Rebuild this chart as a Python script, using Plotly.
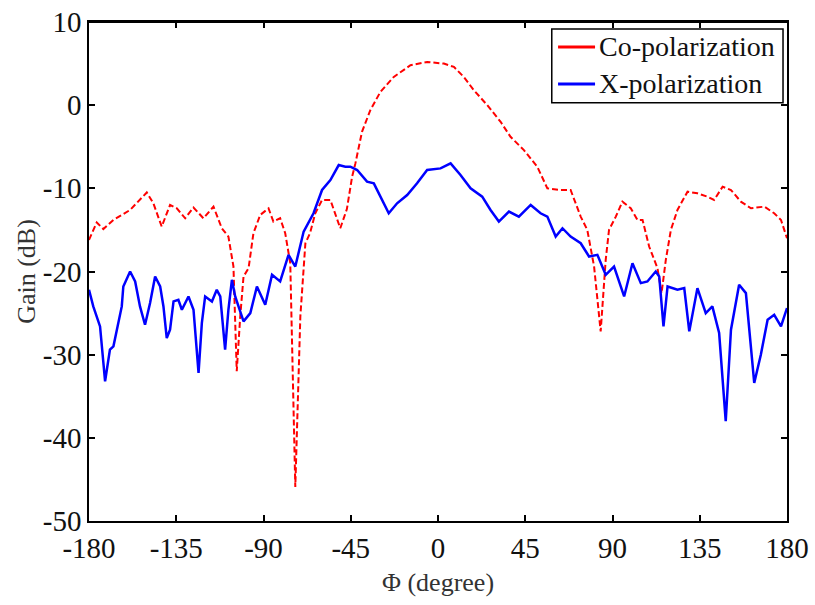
import plotly.graph_objects as go

# Co-polarization (red dashed)
co_phi = [-180, -176, -172.6, -167.4, -158.8, -150.2, -146.8, -142.5, -138.2, -134.7,
          -130.4, -126.1, -121, -115.8, -111.5, -108.1, -105.5, -103.8, -102, -100.3,
          -97.7, -95.2, -91.7, -87.4, -84.9, -81.4, -78.8, -76.2, -73.6, -71,
          -68.4, -66, -63.3, -59.8, -55.5, -50.4, -47, -44.3, -42.6, -39.2,
          -34.9, -29.7, -22.8, -14.2, -5.6, 3.0, 8.2, 13.3, 18.5, 25.4,
          32.3, 37.4, 44.3, 51.2, 56.4, 63.3, 68.4, 73.6, 77.0, 80.5,
          83.9, 86.5, 88.2, 91.7, 95.1, 99.4, 102.9, 105.5, 108.9, 113.2,
          115.3, 117.5, 120.1, 123.5, 128.7, 133.8, 139.0, 142.4, 146.8, 151.1,
          156.2, 161.4, 168.3, 173.4, 176.9, 180]
co_gain = [-16.2, -14.1, -14.9, -13.8, -12.6, -10.5, -11.8, -14.6, -12.0, -12.4,
           -13.6, -12.3, -13.6, -12.2, -14.8, -15.8, -19.4, -32.0, -25.4, -20.6,
           -19.6, -15.4, -13.2, -12.4, -14.0, -13.6, -15.4, -19.0, -45.9, -25.4,
           -16.6, -15.4, -13.0, -11.4, -11.4, -14.8, -12.5, -8.6, -7.0, -3.2,
           -0.6, 1.6, 3.4, 4.8, 5.2, 5.0, 4.6, 3.4, 1.8, 0.0,
           -2.0, -3.8, -5.4, -7.4, -10.0, -10.2, -10.2, -13.4, -15.0, -19.4,
           -27.2, -18.6, -15.0, -13.4, -11.6, -12.4, -13.8, -13.8, -17.0, -19.6,
           -22.6, -18.6, -15.0, -12.6, -10.4, -10.6, -11.0, -11.4, -9.8, -10.2,
           -11.6, -12.4, -12.2, -13.0, -13.8, -16.0]

# X-polarization (blue solid)
x_phi = [-180, -177.8, -174.3, -171.7, -169.2, -167.4, -163.1, -162.3, -158.8, -156.2,
         -153.7, -151.1, -148.5, -145.9, -143.3, -141.6, -139.9, -138.2, -136.4, -133.9,
         -132.1, -128.7, -126.1, -123.5, -121.8, -120.1, -116.6, -114.1, -112.3, -109.8,
         -108.1, -106.3, -104.6, -100.3, -96.8, -93.4, -89.1, -85.6, -81.4, -77.1,
         -73.6, -69.3, -64.2, -59.8, -55.5, -51.2, -47.8, -45.2, -41.7, -36.6,
         -33.1, -29.7, -25.4, -21.1, -15.9, -10.8, -5.6, 1.3, 6.5, 11.6,
         16.8, 22.8, 27.1, 31.4, 36.6, 41.7, 47.8, 52.9, 56.4, 60.7,
         64.2, 68.4, 73.6, 77.9, 82.2, 86.5, 90.8, 96.0, 100.3, 104.6,
         108.0, 112.3, 114.1, 116.3, 118.4, 123.5, 127.0, 129.6, 133.8, 138.1,
         141.5, 145.0, 148.4, 151.1, 155.3, 158.8, 163.1, 166.5, 170.0, 173.4,
         176.9, 180]
x_gain = [-22.2, -24.2, -26.6, -33.2, -29.4, -29.0, -24.2, -21.8, -20.0, -21.2,
          -24.2, -26.4, -23.8, -20.6, -21.8, -24.2, -28.0, -27.0, -23.6, -23.4,
          -24.6, -23.0, -24.6, -32.2, -26.2, -23.0, -23.6, -22.2, -23.0, -29.4,
          -24.6, -21.0, -23.0, -26.0, -25.0, -21.8, -24.0, -20.4, -21.2, -18.0,
          -19.4, -15.2, -13.0, -10.2, -9.0, -7.2, -7.4, -7.4, -7.8, -9.2,
          -9.4, -11.0, -13.0, -11.8, -10.8, -9.4, -7.8, -7.6, -7.0, -8.4,
          -10.0, -11.0, -12.6, -14.0, -12.8, -13.4, -12.0, -13.0, -13.4, -15.8,
          -14.8, -15.8, -16.6, -18.2, -18.0, -20.4, -19.4, -23.0, -19.0, -21.4,
          -21.2, -20.0, -20.6, -26.6, -21.8, -22.2, -22.0, -27.2, -22.0, -25.0,
          -24.2, -27.4, -38.0, -27.0, -21.6, -22.6, -33.4, -30.0, -25.8, -25.2,
          -26.6, -24.4]

x_ticks = [-180, -135, -90, -45, 0, 45, 90, 135, 180]
x_ticklabels = ["-180", "-135", "-90", "-45", "0", "45", "90", "135", "180"]
y_ticks = [-50, -40, -30, -20, -10, 0, 10]
y_ticklabels = ["-50", "-40", "-30", "-20", "-10", "0", "10"]
legend_names = ["Co-polarization", "X-polarization"]

RED = "#ff0000"
BLUE = "#0000ff"
FAM = "Liberation Serif, Times New Roman, serif"

fig = go.Figure()
fig.add_trace(go.Scatter(x=co_phi, y=co_gain, mode="lines", name=legend_names[0],
                         showlegend=False,
                         line=dict(color=RED, width=2, dash="6px,3px")))
fig.add_trace(go.Scatter(x=x_phi, y=x_gain, mode="lines", name=legend_names[1],
                         showlegend=False,
                         line=dict(color=BLUE, width=2.5)))

tick_font = dict(family=FAM, size=29, color="#111")
title_font = dict(family=FAM, size=26, color="#333")
axis_common = dict(showgrid=False, zeroline=False, showline=True, linecolor="black",
                   linewidth=1.5, mirror="ticks", ticks="inside", ticklen=6,
                   tickcolor="black", tickwidth=1.5, tickfont=tick_font,
                   automargin=False, ticklabeloverflow="allow")

# Top edge of the frame (explicit)
fig.add_shape(type="line", xref="paper", yref="paper", x0=0, x1=1, y0=1, y1=1,
              layer="above", line=dict(color="black", width=2))

# Legend box drawn with shapes + annotations (solid line samples as in the original)
fig.add_shape(type="rect", xref="paper", yref="paper", x0=0.663, x1=0.9943,
              y0=0.838, y1=0.986, layer="above",
              line=dict(color="black", width=1.5), fillcolor="white")
for name, yy, col in [(legend_names[0], 0.950, RED), (legend_names[1], 0.876, BLUE)]:
    fig.add_shape(type="line", xref="paper", yref="paper", x0=0.672, x1=0.725,
                  y0=yy, y1=yy, layer="above", line=dict(color=col, width=3))
    fig.add_annotation(xref="paper", yref="paper", x=0.728, y=yy,
                       xanchor="left", yanchor="middle", showarrow=False,
                       text=name, font=dict(family=FAM, size=28, color="#111"))

fig.update_layout(
    width=815, height=605,
    margin=dict(l=89, r=28, t=22, b=84),
    paper_bgcolor="white", plot_bgcolor="white",
    font=dict(family=FAM, size=26, color="#111"),
    showlegend=False,
    xaxis=dict(range=[-180, 180], tickvals=x_ticks, ticktext=x_ticklabels,
               title=dict(text="Φ (degree)", font=title_font, standoff=10), **axis_common),
    xaxis2=dict(range=[-180, 180], overlaying="x", side="top", tickvals=x_ticks,
                showticklabels=False, ticks="inside", ticklen=6, tickcolor="black",
                tickwidth=1.5, showgrid=False, zeroline=False, showline=False),
    yaxis=dict(range=[-50, 10], tickvals=y_ticks, ticktext=y_ticklabels,
               title=dict(text="Gain (dB)", font=title_font, standoff=0),
               **axis_common),
)

fig.write_html("out.html", config={"displayModeBar": False},
               post_script="document.body.style.margin='0';document.body.style.overflow='hidden';")
